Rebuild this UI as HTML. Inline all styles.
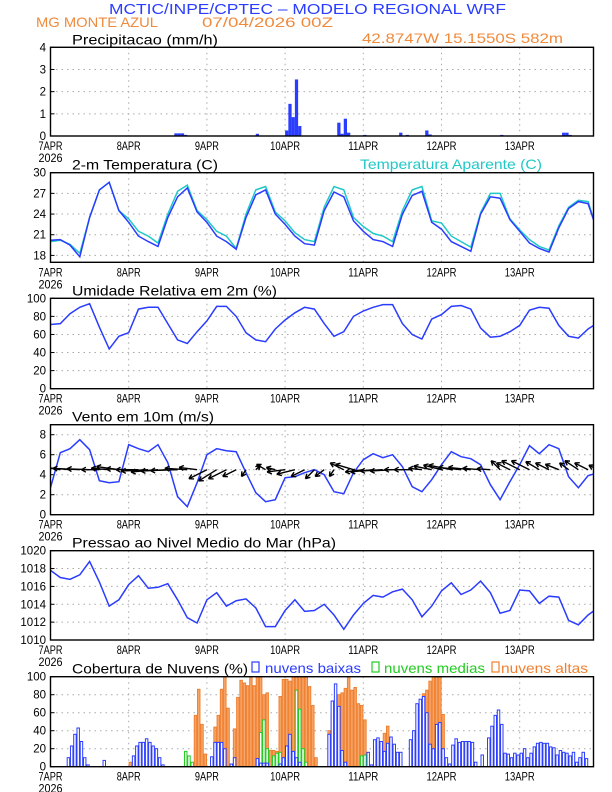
<!DOCTYPE html>
<html><head><meta charset="utf-8"><style>
body{margin:0;background:#fff}
svg{display:block;font-family:"Liberation Sans",sans-serif}
</style></head><body>
<svg id="chart" width="612" height="792" viewBox="0 0 612 792" xmlns="http://www.w3.org/2000/svg">
<g id="texts">
<text x="109" y="14" font-size="15" fill="#2a3cff" textLength="397" lengthAdjust="spacingAndGlyphs">MCTIC/INPE/CPTEC – MODELO REGIONAL WRF</text>
<text x="36" y="27" font-size="14" fill="#f08a3c" textLength="122" lengthAdjust="spacingAndGlyphs">MG MONTE AZUL</text>
<text x="202" y="27" font-size="14" fill="#f08a3c" textLength="131" lengthAdjust="spacingAndGlyphs">07/04/2026 00Z</text>
<text x="362" y="43" font-size="14" fill="#f08a3c" textLength="201" lengthAdjust="spacingAndGlyphs">42.8747W 15.1550S 582m</text>
</g>
</svg>
<script>
const tempHours3 = 3;
const temp2m = [20.2,20.3,19.5,17.8,23.5,27.5,28.6,24.5, 22.8,20.8,20.0,19.3,23.5,26.5,27.8,24.3, 22.8,20.8,20.0,18.9,23.5,26.8,27.5,24.0, 22.5,20.8,19.7,19.5,24.5,27.2,26.5,23.0, 21.5,20.3,20.0,19.3,24.0,26.7,27.3,22.8, 21.8,20.0,19.3,18.6,24.0,26.5,26.3,23.2, 21.5,19.8,19.0,18.5,22.0,24.8,25.8,25.5,21.3];
const tempApar = [20.0,20.2,19.6,18.3,23.5,27.5,28.6,24.5, 23.3,21.5,20.8,19.8,24.0,27.3,28.2,24.5, 23.2,21.5,20.8,19.0,24.0,27.5,28.0,24.3, 23.0,21.3,20.3,20.0,25.0,28.0,27.5,23.5, 22.2,21.2,20.8,20.0,24.5,27.5,28.0,23.0, 22.7,20.8,20.0,19.2,24.2,27.0,27.0,23.3, 21.7,20.3,19.3,18.8,22.3,25.0,26.0,25.8,21.3];
const rh = [71,72,83,90,94,68,44,58, 62,88,90,90,72,54,50,63, 75,91,91,80,62,54,52,66, 76,84,90,88,72,58,63,80, 86,90,93,93,72,60,55,77, 82,91,92,88,67,57,58,63, 70,87,90,89,70,58,56,66,73];
const windSpeed = [2.7,6.2,6.6,7.5,6.5,3.4,3.2,3.3, 7.0,6.6,6.3,7.0,5.2,1.8,0.8,3.2, 6.0,6.6,6.4,6.3,4.2,2.2,1.3,1.5, 3.7,3.8,4.2,4.5,4.0,2.3,2.1,4.2, 5.5,6.1,5.7,6.0,4.8,2.8,2.3,3.5, 5.0,6.3,5.8,5.6,5.0,3.0,1.5,3.3, 5.0,6.9,6.1,7.0,6.6,3.8,2.7,3.9,4.2];
const windU = [-3,-5,-6,-6,-5,-4,-4,-5, -5,-5,-6,-6,-6,-6,-5,-4, -4,-4,-4,-3,-1,1,-2,-2, -4,-4,-3,-2,-2,-1,-3,-4, -4,-5,-5,-5,-4,-4,-3,-4, -4,-5,-5,-5,-4,-3,-2,-3, -4,-4,-3,-3,-3,-2,-3,-3,-2];
const windV = [1,0.8,0.5,0.3,0.2,0,0.3,0.7, 0.2,0,-0.3,-0.5,-0.3,-0.2,0.3,0.5, -2,-2.5,-2,-1.5,-1.5,1,1.2,0.5, -0.5,-1,-1.5,-2,-1.5,-1.5,1.5,1.2, -0.5,-0.5,-0.3,-0.3,0,0,0.3,0.8, 1,1,0.5,0.5,0.3,0.2,2,1.5, 2,2,1.8,1.5,1.2,1.5,2,1.5,1];
const pressure = [1017.8,1017.0,1016.8,1017.3,1018.8,1016.5,1013.8,1014.5, 1016.2,1017.2,1015.8,1015.9,1016.3,1014.5,1012.5,1011.9, 1014.5,1015.3,1013.8,1014.4,1014.6,1013.6,1011.5,1011.5, 1013.3,1014.5,1013.2,1013.3,1014.0,1012.8,1011.2,1012.8, 1014.1,1015.0,1014.8,1015.4,1015.7,1014.5,1012.6,1013.8, 1015.5,1016.4,1015.1,1015.6,1016.6,1015.3,1013.0,1013.3, 1015.6,1015.5,1014.1,1014.9,1014.8,1012.2,1011.7,1012.8,1013.6];
const precipHours = [38,39,40,41,63,72,73,74,75,76,88,89,90,91,96,107,109,115,116,138,157,158,159];
const precipValues = [0.12,0.12,0.12,0.05,0.1,0.25,1.45,0.85,2.55,0.45,0.6,0.1,0.78,0.15,0.05,0.15,0.05,0.25,0.07,0.05,0.15,0.15,0.05];
const lowHours = [5,6,7,8,9,10,11,16,25,26,27,28,29,30,31,32,33,34,49,50,51,52,53,55,56,63,64,65,66,70,71,72,73,74,75,76,85,86,87,88,89,90,97,98,99,100,101,102,103,104,105,106,107,110,111,112,113,114,115,116,117,118,119,120,121,122,123,124,125,126,127,128,129,130,132,134,135,136,137,138,139,140,141,142,143,144,145,146,147,148,149,150,151,152,153,154,155,156,157,158,159,160,161,162,163,164];
const lowValues = [10,23,36,43,28,10,2,7,12,23,27,27,31,27,23,20,10,2,11,27,27,27,20,3,10,9,4,4,4,3,10,23,36,17,10,5,36,73,92,67,18,5,16,2,30,32,28,17,26,33,25,16,16,30,40,70,75,78,60,25,20,47,49,20,10,3,24,31,27,28,28,28,27,5,13,32,45,57,63,47,15,14,10,15,13,15,20,10,15,22,26,27,26,26,22,21,13,18,16,15,12,16,5,10,16,9];
const midHours = [41,42,43,64,65,66,68,69,70,73,75,76,77,78,88,95,96,115,116,117,136,137];
const midValues = [17,12,5,38,52,20,12,15,16,30,85,64,20,5,15,12,13,15,20,10,10,20];
const highHours = [24,44,45,46,47,50,51,52,53,54,56,57,58,59,60,61,62,63,64,65,66,67,68,69,70,71,72,73,74,75,76,77,78,79,80,81,85,86,87,88,89,90,91,92,93,94,95,96,100,101,102,103,104,105,114,115,116,117,118,119,120,155];
const highValues = [5,57,86,47,14,44,57,86,100,65,42,77,96,93,90,100,90,100,100,80,82,18,18,17,78,97,97,95,100,100,100,100,100,89,68,10,40,58,74,80,82,87,100,85,88,70,68,52,12,20,37,45,30,10,81,85,95,100,100,100,58,5];
const dayLabels = ["7APR","8APR","9APR","10APR","11APR","12APR","13APR"];
const precipTicks = [0,1,2,3,4];
const tempTicks = [18,21,24,27,30];
const rhTicks = [0,20,40,60,80,100];
const windTicks = [0,2,4,6,8];
const presTicks = [1010,1012,1014,1016,1018,1020];
const cloudTicks = [0,20,40,60,80,100];

const NS="http://www.w3.org/2000/svg";
const svg=document.getElementById('chart');
const X0=50.5, X1=593.5, PXH=78.2/24;
function xs(h){return X0+h*PXH;}
function mk(tag,attrs,parent){const e=document.createElementNS(NS,tag);for(const k in attrs)e.setAttribute(k,attrs[k]);(parent||svg).appendChild(e);return e;}
let clipN=0;
function panel(name,top,bot,vmin,vmax,ticks,title){
  const g=mk('g',{});
  
  
  const ys=v=>bot-(v-vmin)/(vmax-vmin)*(bot-top);
  for(const t of ticks){
    if(t>vmin&&t<vmax){const l=mk('line',{x1:X0,x2:X1,y1:ys(t),y2:ys(t),stroke:'#aaa','stroke-dasharray':'1.5,4'},g);}
    const tx=mk('text',{x:46,y:ys(t)+4,'font-size':11.5,'text-anchor':'end',fill:'#000'},g);tx.textContent=t;
    
    mk('line',{x1:X0,x2:X0+4,y1:ys(t),y2:ys(t),stroke:'#000'},g);
  }
  dayLabels.forEach((d,i)=>{
    const x=xs(i*24);
    if(i>0){const l=mk('line',{x1:x,x2:x,y1:top,y2:bot,stroke:'#aaa','stroke-dasharray':'1.5,4'},g);}
    const tx=mk('text',{x:x,y:bot+14,'font-size':12,'text-anchor':'middle',textLength:d.length*6,lengthAdjust:'spacingAndGlyphs'},g);tx.textContent=d;
    
  });
  const yr=mk('text',{x:X0,y:bot+26,'font-size':12,'text-anchor':'middle',textLength:24,lengthAdjust:'spacingAndGlyphs'},g);yr.textContent='2026';
  
  const tt=mk('text',{x:72,y:top-3,'font-size':14,textLength:title[1],lengthAdjust:'spacingAndGlyphs'},g);tt.textContent=title[0];
  
  const id='c'+(clipN++);
  const cp=mk('clipPath',{id:id},g);mk('rect',{x:X0,y:top,width:X1-X0,height:bot-top},cp);
  const data=mk('g',{'clip-path':'url(#'+id+')'},g);
  const fr=mk('rect',{x:X0,y:top,width:X1-X0,height:bot-top,fill:'none',stroke:'#000','stroke-width':1.4},g);
  
  g.appendChild(fr);
  return {g,data,ys};
}
function line(p,vals,color,name){
  const pts=vals.map((v,i)=>xs(i*tempHours3).toFixed(1)+','+p.ys(v).toFixed(1)).join(' ');
  const l=mk('polyline',{points:pts,fill:'none',stroke:color,'stroke-width':1.5},p.data);
  
}
// precip
const P1=panel('precip',47.3,136,0,4,precipTicks,['Precipitacao (mm/h)',146]);
precipHours.forEach((h,i)=>{const y=P1.ys(precipValues[i]);const r=mk('rect',{x:xs(h),y:y,width:PXH,height:136-y,fill:'#2a3cff'},P1.data);
});
// temp
const P2=panel('temperature',172.7,262.3,17,30,tempTicks,['2-m Temperatura (C)',146]);
line(P2,tempApar,'#20c8c8','apparent-temp-line');
line(P2,temp2m,'#2a3cff','temp-line');
const ta=mk('text',{x:360,y:169,'font-size':14,fill:'#20c8c8',textLength:182,lengthAdjust:'spacingAndGlyphs'});ta.textContent='Temperatura Aparente (C)';

// rh
const P3=panel('humidity',298.3,388.7,0,100,rhTicks,['Umidade Relativa em 2m (%)',205]);
line(P3,rh,'#2a3cff','rh-line');
// wind
const P4=panel('wind',424.7,514.7,0,9,windTicks,['Vento em 10m (m/s)',142]);
{const y=P4.ys(4.5);const l=mk('line',{x1:X0,x2:X1,y1:y,y2:y,stroke:'#aaa','stroke-dasharray':'1.5,3'},P4.data);}
line(P4,windSpeed,'#2a3cff','wind-speed-line');
windU.forEach((u,i)=>{
  const x=xs(i*3),y=P4.ys(4.5),dx=u*4.5,dy=-windV[i]*4.5;
  const L=Math.hypot(dx,dy)||1,ux=dx/L,uy=dy/L,ex=x+dx,ey=y+dy;
  const a=mk('path',{d:`M${x},${y}L${ex},${ey}M${ex},${ey}L${ex-ux*4.5-uy*2.5},${ey-uy*4.5+ux*2.5}M${ex},${ey}L${ex-ux*4.5+uy*2.5},${ey-uy*4.5-ux*2.5}`,stroke:'#000','stroke-width':1.4,fill:'none'},P4.data);
  
});
// pressure
const P5=panel('pressure',550.7,640,1010,1020,presTicks,['Pressao ao Nivel Medio do Mar (hPa)',264]);
line(P5,pressure,'#2a3cff','pressure-line');
// clouds
const P6=panel('clouds',676.7,766.7,0,100,cloudTicks,['Cobertura de Nuvens (%)',176]);
function bars(hours,vals,fill,stroke,name){
  hours.forEach((h,i)=>{const y=P6.ys(vals[i]);const r=mk('rect',{x:xs(h)+0.4,y:y,width:PXH-0.8,height:766.7-y,fill:fill,stroke:stroke,'stroke-width':1},P6.data);
  });
}
bars(highHours,highValues,'#f6a66a','#f08030','high-cloud-bar');
bars(midHours,midValues,'#ffffff','#22cc22','mid-cloud-bar');
bars(lowHours,lowValues,'#ffffff','#2a3cff','low-cloud-bar');
[[252,'#2a3cff','nuvens baixas',265,96,'legend-low'],[372,'#22cc22','nuvens medias',384,101,'legend-mid'],[492,'#f08030','nuvens altas',501,87,'legend-high']].forEach(l=>{
  const r=mk('rect',{x:l[0],y:662,width:7,height:10,fill:'none',stroke:l[1],'stroke-width':1.2});
  
  const t=mk('text',{x:l[3],y:673,'font-size':14,fill:l[1],textLength:l[4],lengthAdjust:'spacingAndGlyphs'});t.textContent=l[2];
  
});
</script>
</body></html>
